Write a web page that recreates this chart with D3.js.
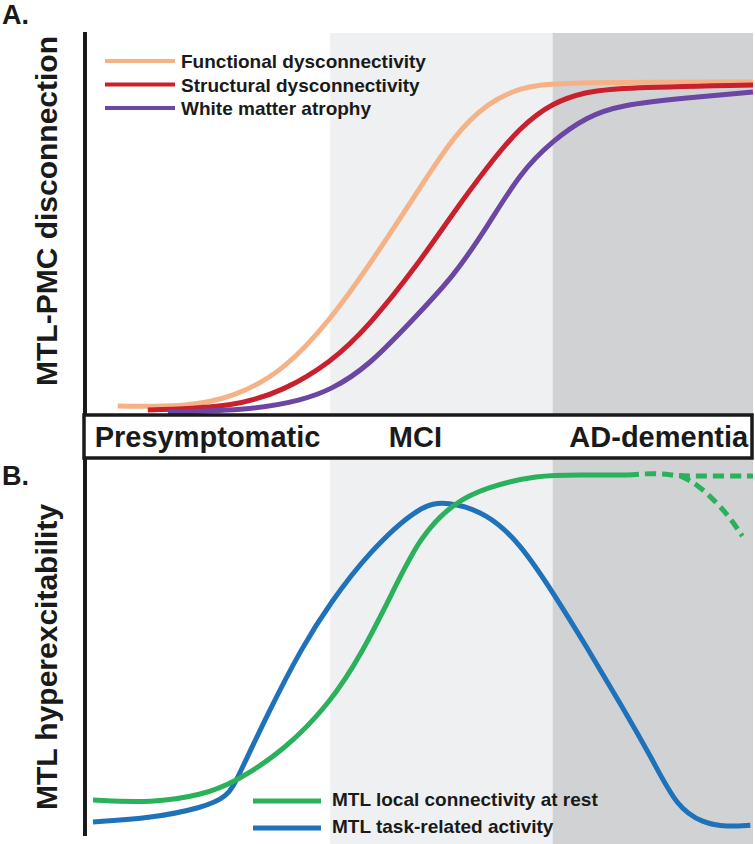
<!DOCTYPE html>
<meta charset="utf-8">
<style>
	body{ margin:0; background:#fff; }
	svg text{ font-family:"Liberation Sans", Arial, sans-serif; font-weight:bold; fill:#1a1a1a; }
	.curve{ fill:none; stroke-width:5; stroke-linecap:butt; }
</style>
<body>
<svg width="755" height="844" id="chart"></svg>
<script src="https://cdn.jsdelivr.net/npm/d3@7"></script>
<script>
	// disease stages (x = progression, 0..100)
	var stageNames = ["Presymptomatic", "MCI", "AD-dementia"];
	var stageBounds = [0, 36.7, 70, 100];
	var stageFills = ["#ffffff", "#eef0f2", "#d1d2d4"];

	// panel A: MTL-PMC disconnection
	var seriesA = ["Functional dysconnectivity", "Structural dysconnectivity", "White matter atrophy"];
	var colorsA = ["#f5b286", "#c8202d", "#6b46a2"];
	var functionalX = [4.9, 15.0, 22.5, 29.9, 36.7, 42.4, 50.0, 55.1, 60.2, 65.1, 70.1, 100];
	var functionalY = [1.8, 1.5, 4.5, 12.7, 27.7, 43.7, 67.0, 83.0, 93.1, 97.6, 99.4, 99.4];
	var structuralX = [9.4, 22.5, 29.9, 36.7, 42.4, 50.0, 55.1, 60.2, 65.1, 70.1, 75.1, 79.0, 100];
	var structuralY = [0.6, 1.5, 6.6, 14.8, 25.6, 44.9, 59.9, 73.8, 85.8, 93.4, 96.4, 97.6, 98.5];
	var atrophyX = [12.4, 25.0, 32.5, 36.7, 42.4, 50.0, 55.1, 60.2, 65.1, 70.1, 75.1, 80.1, 90.1, 100];
	var atrophyY = [0, 0.6, 3.6, 6.6, 13.6, 29.8, 40.7, 55.7, 72.0, 81.9, 88.9, 92.5, 94.6, 96.4];

	// panel B: MTL hyperexcitability
	var seriesB = ["MTL local connectivity at rest", "MTL task-related activity"];
	var colorsB = ["#2bb05c", "#1f72ba"];
	var restX = [1.2, 10.0, 17.5, 22.5, 29.9, 36.7, 41.5, 46.0, 50.1, 55.1, 60.2, 67.7, 74.0, 81.3];
	var restY = [7.9, 7.1, 9.3, 13.0, 22.1, 35.4, 49.6, 66.6, 82.4, 92.1, 96.6, 100, 100, 100];
	var restFlatX = [81.3, 85.3, 89.1, 92.0, 100];
	var restFlatY = [100, 100.6, 99.7, 99.7, 99.7];
	var restDropX = [89.1, 91.6, 94.6, 96.6, 98.4];
	var restDropY = [99.7, 97.5, 92.1, 87.8, 82.7];
	var taskX = [1.2, 10.0, 17.5, 21.4, 22.9, 27.4, 32.5, 36.7, 42.4, 50.1, 54.2, 60.2, 65.1, 70.1, 75.1, 80.1, 85.0, 88.6, 92.5, 96.1, 99.6];
	var taskY = [1.7, 2.8, 5.7, 8.8, 14.4, 32.6, 51.3, 63.7, 78.0, 91.5, 92.6, 89.2, 80.7, 66.6, 51.3, 35.4, 19.3, 5.9, 1.4, 0.3, 0.8];

	var svg = d3.select("#chart");
	var x = d3.scaleLinear().domain([0, 100]).range([85, 753]);
	var yA = d3.scaleLinear().domain([0, 100]).range([412, 80]);
	var yB = d3.scaleLinear().domain([0, 100]).range([828, 475]);

	function pts(xs, ys){ return xs.map(function(v, i){ return [v, ys[i]]; }); }

	/* stage shading */
	svg.selectAll("rect.stage")
		.data(stageNames)
		.enter().append("rect")
		.attr("class", "stage")
		.attr("x", function(d, i){ return x(stageBounds[i]); })
		.attr("width", function(d, i){ return x(stageBounds[i+1]) - x(stageBounds[i]); })
		.attr("y", 33)
		.attr("height", 844 - 33)
		.style("fill", function(d, i){ return stageFills[i]; });

	/* curves */
	var lineA = d3.line().x(function(d){ return x(d[0]); }).y(function(d){ return yA(d[1]); }).curve(d3.curveBasis);
	var lineB = d3.line().x(function(d){ return x(d[0]); }).y(function(d){ return yB(d[1]); }).curve(d3.curveBasis);

	var dataA = [pts(functionalX, functionalY), pts(structuralX, structuralY), pts(atrophyX, atrophyY)];
	svg.selectAll("path.curveA")
		.data(dataA)
		.enter().append("path")
		.attr("class", "curve curveA")
		.attr("d", lineA)
		.style("stroke", function(d, i){ return colorsA[i]; });

	svg.append("path").attr("class", "curve")
		.attr("d", lineB(pts(taskX, taskY)))
		.style("stroke", colorsB[1]);
	svg.append("path").attr("class", "curve")
		.attr("d", lineB(pts(restX, restY)))
		.style("stroke", colorsB[0]);
	[pts(restFlatX, restFlatY), pts(restDropX, restDropY)].forEach(function(p){
		svg.append("path").attr("class", "curve")
			.attr("d", lineB(p))
			.style("stroke", colorsB[0])
			.style("stroke-dasharray", "11,6");
	});

	/* vertical axis */
	svg.append("line")
		.attr("x1", 85).attr("x2", 85).attr("y1", 32).attr("y2", 836)
		.style("stroke", "#1a1a1a").style("stroke-width", 4);

	/* stage bar */
	svg.append("rect")
		.attr("x", 84).attr("y", 415).attr("width", 668).attr("height", 43)
		.style("fill", "#fff").style("stroke", "#1a1a1a").style("stroke-width", 3.5);
	svg.selectAll("text.stage")
		.data(stageNames)
		.enter().append("text")
		.attr("class", "stage")
		.attr("x", function(d, i){ return (x(stageBounds[i]) + x(stageBounds[i+1])) / 2 + (i == 1 ? -26 : (i == 2 ? 6 : 0)); })
		.attr("y", 447)
		.attr("text-anchor", "middle")
		.style("font-size", "29px")
		.text(function(d){ return d; });

	/* legends */
	var legA = svg.selectAll("g.legA").data(seriesA).enter().append("g")
		.attr("transform", function(d, i){ return "translate(105," + (61 + i*23.5) + ")"; });
	legA.append("line").attr("x1", 0).attr("x2", 70)
		.style("stroke", function(d, i){ return colorsA[i]; }).style("stroke-width", 4);
	legA.append("text").attr("x", 76).attr("y", 7).style("font-size", "19px").text(function(d){ return d; });

	var legB = svg.selectAll("g.legB").data(seriesB).enter().append("g")
		.attr("transform", function(d, i){ return "translate(253," + (801 + i*27) + ")"; });
	legB.append("line").attr("x1", 0).attr("x2", 68)
		.style("stroke", function(d, i){ return colorsB[i]; }).style("stroke-width", 5);
	legB.append("text").attr("x", 79).attr("y", 5).style("font-size", "19px").text(function(d){ return d; });

	/* titles */
	svg.append("text").attr("x", 2).attr("y", 24).style("font-size", "27px").text("A.");
	svg.append("text").attr("x", 2).attr("y", 485).style("font-size", "27px").text("B.");
	svg.append("text").attr("transform", "translate(57,211) rotate(-90)")
		.attr("text-anchor", "middle").style("font-size", "30px").text("MTL-PMC disconnection");
	svg.append("text").attr("transform", "translate(57,657) rotate(-90)")
		.attr("text-anchor", "middle").style("font-size", "30px").text("MTL hyperexcitability");
</script>
</body>
